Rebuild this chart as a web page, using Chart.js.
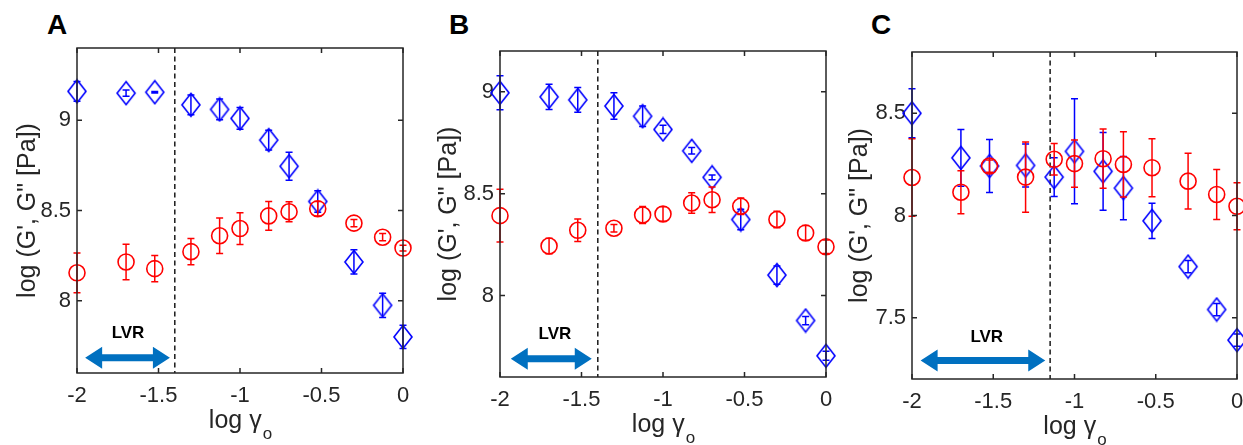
<!DOCTYPE html>
<html>
<head>
<meta charset="utf-8">
<script src="https://cdn.jsdelivr.net/npm/chart.js@4.4.1/dist/chart.umd.min.js"></script>
<style>
  html, body { margin: 0; padding: 0; overflow: hidden; }
  body { position: relative; width: 1243px; height: 445px; background: #fff; }
  canvas { position: absolute; top: 0; }
  .tag { position: absolute; top: 11px; font: bold 28px/28px "Liberation Sans", Arial, sans-serif; color: #000; }
</style>
</head>
<body>
<div class="tag" style="left:47px">A</div>
<div class="tag" style="left:449px">B</div>
<div class="tag" style="left:871px">C</div>
<canvas id="panelA" width="421" height="445" style="left:0px"></canvas>
<canvas id="panelB" width="426" height="445" style="left:418px"></canvas>
<canvas id="panelC" width="430" height="445" style="left:833px"></canvas>
<script>
// strain amplitudes (log10 of 0.01 ... 1)
const strainLog = [-2, -1.699, -1.523, -1.301, -1.125, -1, -0.824, -0.699, -0.523, -0.301, -0.125, 0];
const xTicks = [-2, -1.5, -1, -0.5, 0];

// panel A
const storageA = [9.16, 9.15, 9.155, 9.085, 9.06, 9.01, 8.89, 8.745, 8.55, 8.215, 7.975, 7.80];
const storageErrA = [0.055, 0.017, 0.004, 0.055, 0.058, 0.06, 0.055, 0.078, 0.06, 0.067, 0.067, 0.064];
const lossA = [8.155, 8.215, 8.178, 8.272, 8.36, 8.40, 8.47, 8.493, 8.51, 8.43, 8.352, 8.292];
const lossErrA = [0.11, 0.098, 0.073, 0.073, 0.098, 0.088, 0.08, 0.055, 0.04, 0.02, 0.02, 0.016];
const yTicksA = [8, 8.5, 9];

// panel B
const storageB = [8.995, 8.975, 8.96, 8.93, 8.88, 8.815, 8.71, 8.58, 8.373, 8.10, 7.877, 7.704];
const storageErrB = [0.083, 0.062, 0.061, 0.065, 0.05, 0.02, 0.016, 0.012, 0.05, 0.045, 0.02, 0.022];
const lossB = [8.392, 8.243, 8.32, 8.33, 8.395, 8.40, 8.454, 8.47, 8.438, 8.373, 8.307, 8.239];
const lossErrB = [0.13, 0.038, 0.055, 0.018, 0.042, 0.035, 0.05, 0.063, 0.04, 0.04, 0.036, 0.033];
const yTicksB = [8, 8.5, 9];

// panel C
const storageC = [8.50, 8.282, 8.242, 8.245, 8.188, 8.314, 8.216, 8.134, 7.974, 7.75, 7.54, 7.39];
const storageErrC = [0.12, 0.139, 0.13, 0.105, 0.095, 0.257, 0.19, 0.155, 0.086, 0.03, 0.03, 0.03];
const lossC = [8.186, 8.114, 8.242, 8.188, 8.275, 8.254, 8.278, 8.25, 8.234, 8.168, 8.103, 8.045];
const lossErrC = [0.19, 0.105, 0.03, 0.172, 0.077, 0.116, 0.145, 0.16, 0.142, 0.136, 0.122, 0.115];
const yTicksC = [7.5, 8, 8.5];

// end of the linear viscoelastic region, per panel
const lvrLimit = [-1.4, -1.4, -1.15];

const RED = 'rgb(255,0,0)';
const BLUE = 'rgb(0,0,255)';
const INK = '#262626';
const ARROW = '#0070C0';
const FONT = '"Liberation Sans", Arial, sans-serif';

function diamondMarker(color) {
    const c = document.createElement('canvas');
    c.width = 22;
    c.height = 26;
    const g = c.getContext('2d');
    g.strokeStyle = color;
    g.lineWidth = 1.6;
    g.beginPath();
    g.moveTo(11, 1.5);
    g.lineTo(20, 13);
    g.lineTo(11, 24.5);
    g.lineTo(2, 13);
    g.closePath();
    g.stroke();
    return c;
}

function toPoints(values) {
    return values.map((v, i) => ({ x: strainLog[i], y: v }));
}

function drawDoubleArrow(ctx, x1, x2, y) {
    const head = 17, halfHead = 11, halfShaft = 3.5;
    ctx.beginPath();
    ctx.moveTo(x1, y);
    ctx.lineTo(x1 + head, y - halfHead);
    ctx.lineTo(x1 + head, y - halfShaft);
    ctx.lineTo(x2 - head, y - halfShaft);
    ctx.lineTo(x2 - head, y - halfHead);
    ctx.lineTo(x2, y);
    ctx.lineTo(x2 - head, y + halfHead);
    ctx.lineTo(x2 - head, y + halfShaft);
    ctx.lineTo(x1 + head, y + halfShaft);
    ctx.lineTo(x1 + head, y + halfHead);
    ctx.closePath();
    ctx.fill();
}

// error bars are drawn just before each dataset's markers
const errorBars = {
    id: 'errorBars',
    beforeDatasetDraw(chart, args) {
        const ds = chart.data.datasets[args.index];
        if (!ds.errors) return;
        const { ctx, scales: { x, y } } = chart;
        ctx.save();
        ctx.strokeStyle = ds.borderColor;
        ctx.lineWidth = 1.5;
        ds.data.forEach((p, i) => {
            const e = ds.errors[i];
            const px = x.getPixelForValue(p.x);
            const top = y.getPixelForValue(p.y + e);
            const bot = y.getPixelForValue(p.y - e);
            ctx.beginPath();
            ctx.moveTo(px, top);
            ctx.lineTo(px, bot);
            ctx.moveTo(px - 3.5, top);
            ctx.lineTo(px + 3.5, top);
            ctx.moveTo(px - 3.5, bot);
            ctx.lineTo(px + 3.5, bot);
            ctx.stroke();
        });
        ctx.restore();
    }
};

function decorations(panel) {
    return {
        id: 'decor',
        beforeDatasetsDraw(chart) {
            const { ctx, chartArea: a, scales: { x, y } } = chart;
            ctx.save();
            // LVR limit
            const lx = x.getPixelForValue(panel.lvr);
            ctx.strokeStyle = '#1a1a1a';
            ctx.lineWidth = 1.5;
            ctx.setLineDash([5, 3.5]);
            ctx.beginPath();
            ctx.moveTo(lx, a.top);
            ctx.lineTo(lx, a.bottom);
            ctx.stroke();
            ctx.setLineDash([]);
            // LVR arrow and label
            ctx.fillStyle = ARROW;
            drawDoubleArrow(ctx, x.getPixelForValue(panel.arrow[0]), x.getPixelForValue(panel.arrow[1]),
                y.getPixelForValue(panel.arrowY));
            ctx.fillStyle = '#000';
            ctx.font = 'bold 17px ' + FONT;
            ctx.textAlign = 'center';
            ctx.textBaseline = 'middle';
            ctx.fillText('LVR', x.getPixelForValue(panel.label[0]), y.getPixelForValue(panel.label[1]));
            ctx.restore();
        },
        afterDatasetsDraw(chart) {
            const { ctx, chartArea: a, scales: { x, y } } = chart;
            ctx.save();
            ctx.strokeStyle = INK;
            ctx.lineWidth = 1.5;
            ctx.strokeRect(a.left, a.top, a.right - a.left, a.bottom - a.top);
            ctx.beginPath();
            x.ticks.forEach(t => {
                const px = x.getPixelForValue(t.value);
                ctx.moveTo(px, a.bottom);
                ctx.lineTo(px, a.bottom - 5);
                ctx.moveTo(px, a.top);
                ctx.lineTo(px, a.top + 5);
            });
            y.ticks.forEach(t => {
                const py = y.getPixelForValue(t.value);
                ctx.moveTo(a.left, py);
                ctx.lineTo(a.left + 5, py);
                ctx.moveTo(a.right, py);
                ctx.lineTo(a.right - 5, py);
            });
            ctx.stroke();
            ctx.restore();
        },
        afterDraw(chart) {
            // x axis title with subscript
            const { ctx, chartArea: a } = chart;
            ctx.save();
            ctx.fillStyle = INK;
            ctx.textBaseline = 'alphabetic';
            ctx.textAlign = 'left';
            const main = 'log \u03b3', sub = 'o';
            ctx.font = '25px ' + FONT;
            const w1 = ctx.measureText(main).width;
            ctx.font = '17px ' + FONT;
            const w2 = ctx.measureText(sub).width;
            const x0 = (a.left + a.right) / 2 - (w1 + w2) / 2;
            const base = a.bottom + 55;
            ctx.font = '25px ' + FONT;
            ctx.fillText(main, x0, base);
            ctx.font = '17px ' + FONT;
            ctx.fillText(sub, x0 + w1 + 1, base + 11);
            ctx.restore();
        }
    };
}

function buildPanel(id, panel) {
    return new Chart(document.getElementById(id), {
        type: 'scatter',
        data: {
            datasets: [
                {
                    label: "G''",
                    data: toPoints(panel.loss),
                    errors: panel.lossErr,
                    borderColor: RED,
                    backgroundColor: 'rgba(0,0,0,0)',
                    pointStyle: 'circle',
                    pointRadius: 8,
                    borderWidth: 1.6,
                    clip: false
                },
                {
                    label: "G'",
                    data: toPoints(panel.storage),
                    errors: panel.storageErr,
                    borderColor: BLUE,
                    backgroundColor: 'rgba(0,0,0,0)',
                    pointStyle: diamondMarker(BLUE),
                    pointRadius: 10,
                    borderWidth: 1.6,
                    clip: false
                }
            ]
        },
        options: {
            responsive: false,
            animation: false,
            events: [],
            layout: {
                autoPadding: false,
                padding: { top: panel.padTop, right: panel.padRight, bottom: 0, left: 0 }
            },
            plugins: { legend: { display: false }, tooltip: { enabled: false } },
            scales: {
                x: {
                    type: 'linear',
                    min: -2,
                    max: 0,
                    afterBuildTicks: s => { s.ticks = xTicks.map(v => ({ value: v })); },
                    afterFit: s => { s.height = panel.axisHeight; },
                    grid: { display: false, drawTicks: false },
                    border: { display: false },
                    ticks: {
                        font: { family: FONT, size: 22 },
                        color: INK,
                        padding: 10,
                        maxRotation: 0,
                        autoSkip: false,
                        callback: v => String(v)
                    }
                },
                y: {
                    type: 'linear',
                    min: panel.yMin,
                    max: panel.yMax,
                    afterBuildTicks: s => { s.ticks = panel.yTicks.map(v => ({ value: v })); },
                    afterFit: s => { s.width = panel.axisWidth; },
                    grid: { display: false, drawTicks: false },
                    border: { display: false },
                    title: {
                        display: true,
                        text: 'log (G\', G" [Pa])',
                        color: INK,
                        font: { family: FONT, size: 25 },
                        padding: { top: panel.titlePad, bottom: 0 }
                    },
                    ticks: {
                        font: { family: FONT, size: 22 },
                        color: INK,
                        padding: 6,
                        autoSkip: false,
                        callback: v => String(v)
                    }
                }
            }
        },
        plugins: [errorBars, decorations(panel)]
    });
}

buildPanel('panelA', {
    storage: storageA, storageErr: storageErrA, loss: lossA, lossErr: lossErrA,
    yMin: 7.6, yMax: 9.4, yTicks: yTicksA, lvr: lvrLimit[0],
    arrow: [-1.95, -1.43], arrowY: 7.685, label: [-1.687, 7.82],
    padTop: 48, padRight: 18, axisWidth: 77, axisHeight: 72, titlePad: 13
});
buildPanel('panelB', {
    storage: storageB, storageErr: storageErrB, loss: lossB, lossErr: lossErrB,
    yMin: 7.6, yMax: 9.2, yTicks: yTicksB, lvr: lvrLimit[1],
    arrow: [-1.934, -1.437], arrowY: 7.69, label: [-1.663, 7.81],
    padTop: 51, padRight: 18, axisWidth: 82, axisHeight: 68, titlePad: 16
});
buildPanel('panelC', {
    storage: storageC, storageErr: storageErrC, loss: lossC, lossErr: lossErrC,
    yMin: 7.2, yMax: 8.8, yTicks: yTicksC, lvr: lvrLimit[2],
    arrow: [-1.947, -1.18], arrowY: 7.29, label: [-1.54, 7.405],
    padTop: 52, padRight: 26, axisWidth: 79, axisHeight: 66, titlePad: 12
});
</script>
</body>
</html>
